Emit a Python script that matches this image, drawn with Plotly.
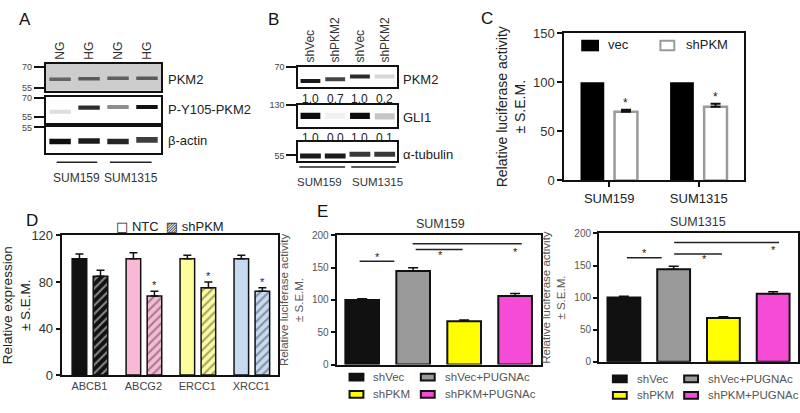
import plotly.graph_objects as go

W, H = 800, 413
FONT = "Liberation Sans, Arial, sans-serif"

# ------------------------------------------------------------------ data
# Panel A (western blots: band darkness 0..1 per lane)
a_lanes = ["NG", "HG", "NG", "HG"]
a_pkm2_dark = [0.62, 0.66, 0.64, 0.66]
a_py105_dark = [0.12, 0.85, 0.45, 0.97]
a_actin_dark = [0.97, 0.92, 0.88, 0.78]
a_cells = ["SUM159", "SUM1315"]

# Panel B
b_lanes = ["shVec", "shPKM2", "shVec", "shPKM2"]
b_pkm2_dark = [0.92, 0.75, 0.85, 0.15]
b_pkm2_quant = ["1.0", "0.7", "1.0", "0.2"]
b_gli1_dark = [0.98, 0.04, 0.98, 0.22]
b_gli1_quant = ["1.0", "0.0", "1.0", "0.1"]
b_tub_dark = [0.92, 0.92, 0.8, 0.8]
b_cells = ["SUM159", "SUM1315"]

# Panel C
c_cells = ["SUM159", "SUM1315"]
c_vec = [100, 100]
c_shpkm = [70, 75]
c_shpkm_err = [2, 3]

# Panel D
d_genes = ["ABCB1", "ABCG2", "ERCC1", "XRCC1"]
d_ntc = [100, 100, 100, 100]
d_ntc_err = [4, 5, 3, 3]
d_shpkm = [85, 68, 75, 72]
d_shpkm_err = [5, 4, 5, 3]
d_sig = ["", "*", "*", "*"]
d_colors = ["#111111", "#f9b8d6", "#fdfd9c", "#c6daf2"]

# Panel E
e_groups = ["shVec", "shVec+PUGNAc", "shPKM", "shPKM+PUGNAc"]
e_colors = ["#111111", "#9a9a9a", "#ffff00", "#f64bd6"]
e1_vals = [100, 145, 67, 106]
e1_err = [2, 5, 2, 4]
e2_vals = [100, 144, 68, 106]
e2_err = [2, 5, 2, 3]
# significance bars: (x start, x end, line height, star x, star y)
e1_sig = [(-0.05, 0.63, 160, 0.30, 167), (1.05, 1.97, 178, 1.54, 170), (0.99, 3.13, 187, 3.01, 175)]
e2_sig = [(0.06, 0.76, 162, 0.42, 170), (1.01, 1.97, 168, 1.61, 160), (1.01, 3.12, 186, 3.00, 174)]

# ------------------------------------------------------------------ helpers
fig = go.Figure()
layout = {}
shapes = []
annos = []
n_axes = [0]


def gray(d):
    v = int(round(255 * (1 - d) * 0.95 + 8))
    v = max(0, min(255, v))
    return f"rgb({v},{v},{v})"


def new_axes(x0, x1, y0, y1, xa=None, ya=None):
    n_axes[0] += 1
    n = n_axes[0]
    sfx = "" if n == 1 else str(n)
    xd = dict(domain=[x0 / W, x1 / W], anchor="y" + sfx)
    yd = dict(domain=[1 - y1 / H, 1 - y0 / H], anchor="x" + sfx)
    xd.update(xa or {})
    yd.update(ya or {})
    layout["xaxis" + sfx] = xd
    layout["yaxis" + sfx] = yd
    return "x" + sfx, "y" + sfx


def txt(x, y, s, size=12, color="#222", xanchor="center", yanchor="middle", xref="paper", yref="paper", angle=0, **kw):
    if xref == "paper":
        x = x / W
    if yref == "paper":
        y = 1 - y / H
    annos.append(dict(x=x, y=y, xref=xref, yref=yref, text=s, showarrow=False, xanchor=xanchor,
                      yanchor=yanchor, textangle=angle, font=dict(size=size, color=color, family=FONT), **kw))


def blot_axes(x0, x1, y0, y1, mw_vals, mw_text, top_labels=None, bg=None):
    xa = dict(range=[-0.5, 3.5], showgrid=False, zeroline=False, showline=True, mirror=True,
              linecolor="#111", linewidth=1.5, fixedrange=True)
    if top_labels:
        xa.update(side="top", tickmode="array", tickvals=list(range(len(top_labels))), ticktext=top_labels,
                  tickangle=-90, ticks="", tickfont=dict(size=12, color="#333", family=FONT))
    else:
        xa.update(showticklabels=False, ticks="")
    ya = dict(range=[0, 1], showgrid=False, zeroline=False, showline=True, mirror=True,
              linecolor="#111", linewidth=1.5, tickmode="array", tickvals=mw_vals, ticktext=mw_text,
              ticks="outside", ticklen=10, tickwidth=1.5, tickcolor="#111",
              tickfont=dict(size=9, color="#444", family=FONT), fixedrange=True)
    xr, yr = new_axes(x0, x1, y0, y1, xa, ya)
    if bg:
        shapes.append(dict(type="rect", xref=xr + " domain", yref=yr + " domain", x0=0, x1=1, y0=0, y1=1,
                           fillcolor=bg, line=dict(width=0), layer="below"))
    return xr, yr


def bands(xr, yr, dark, centers, thick, width):
    fig.add_trace(go.Bar(x=list(range(len(dark))), y=[thick] * len(dark),
                         base=[c - thick / 2 for c in centers], width=width,
                         marker=dict(color=[gray(d) for d in dark], line=dict(width=0)),
                         xaxis=xr, yaxis=yr, showlegend=False, hoverinfo="skip"))


# ------------------------------------------------------------------ panel A
txt(17, 13, "A", size=17, color="#111")
xa1, ya1 = blot_axes(38, 155, 59, 87, [0.1, 0.9], ["55", "70"], top_labels=a_lanes, bg="#cdcdcd")
bands(xa1, ya1, a_pkm2_dark, [0.43, 0.45, 0.47, 0.47], 0.13, 0.74)
xa2, ya2 = blot_axes(38, 155, 93, 120, [0.22, 0.96], ["55", "70"])
bands(xa2, ya2, a_py105_dark, [0.42, 0.58, 0.6, 0.6], 0.16, 0.74)
xa3, ya3 = blot_axes(38, 155, 125, 152, [1], ["55"])
bands(xa3, ya3, a_actin_dark, [0.46, 0.48, 0.46, 0.52], 0.22, 0.74)
for lab, yy in zip(["PKM2", "P-Y105-PKM2", "β-actin"], [75, 106, 139]):
    txt(160, yy, lab, size=13, color="#222", xanchor="left")
for i, cell in enumerate(a_cells):
    lo, hi = (-0.12, 1.28) if i == 0 else (1.72, 3.16)
    shapes.append(dict(type="line", xref=xa3, yref="paper", x0=lo, x1=hi, y0=1 - 161 / H, y1=1 - 161 / H,
                       line=dict(color="#222", width=1.5)))
    annos.append(dict(x=(lo + hi) / 2, y=1 - 177 / H, xref=xa3, yref="paper", text=cell, showarrow=False,
                      font=dict(size=12, color="#333", family=FONT)))

# ------------------------------------------------------------------ panel B
txt(268, 13, "B", size=17, color="#111")
xb1, yb1 = blot_axes(293, 393, 62, 83, [1], ["70"], top_labels=b_lanes)
bands(xb1, yb1, b_pkm2_dark, [0.3, 0.38, 0.52, 0.52], 0.2, 0.8)
xb2, yb2 = blot_axes(293, 393, 102, 125, [1], ["130"])
bands(xb2, yb2, b_gli1_dark, [0.52, 0.52, 0.52, 0.5], 0.28, 0.8)
xb3, yb3 = blot_axes(293, 393, 140, 160, [0.3], ["55"])
bands(xb3, yb3, b_tub_dark, [0.27, 0.27, 0.36, 0.36], 0.26, 0.84)
for lab, yy in zip(["PKM2", "GLI1", "α-tubulin"], [75, 115, 153]):
    txt(397, yy, lab, size=13, color="#222", xanchor="left")
for i, q in enumerate(b_pkm2_quant):
    annos.append(dict(x=i, y=0, xref=xb1, yref=yb1 + " domain", text=q, showarrow=False, yanchor="top",
                      yshift=-3, font=dict(size=12, color="#222", family=FONT)))
for i, q in enumerate(b_gli1_quant):
    annos.append(dict(x=i, y=0, xref=xb2, yref=yb2 + " domain", text=q, showarrow=False, yanchor="top",
                      yshift=-2, font=dict(size=12, color="#222", family=FONT)))
for i, cell in enumerate(b_cells):
    lo, hi = (-0.45, 1.4) if i == 0 else (1.65, 3.45)
    shapes.append(dict(type="line", xref=xb3, yref="paper", x0=lo, x1=hi, y0=1 - 166 / H, y1=1 - 166 / H,
                       line=dict(color="#222", width=1.5)))
    annos.append(dict(x=(lo + hi) / 2 + (-0.12 if i == 0 else 0.15), y=1 - 182 / H, xref=xb3, yref="paper",
                      text=cell, showarrow=False, font=dict(size=11.5, color="#333", family=FONT)))

# ------------------------------------------------------------------ panel C
txt(484, 12, "C", size=17, color="#111")
frame = dict(showline=True, mirror=True, linecolor="#111", linewidth=2, showgrid=False, zeroline=False,
             fixedrange=True)
xc, yc = new_axes(562, 743, 27, 180,
                  dict(frame, range=[-0.5, 1.5], tickmode="array", tickvals=[0, 1], ticktext=c_cells,
                       ticks="outside", ticklen=5, tickwidth=2, tickcolor="#111",
                       tickfont=dict(size=13, color="#222", family=FONT)),
                  dict(frame, range=[0, 150], tickmode="array", tickvals=[0, 50, 100, 150],
                       ticktext=["0", "50", "100", "150"], showticklabels=True,
                       ticks="outside", ticklen=5, tickwidth=2, tickcolor="#111",
                       tickfont=dict(size=13, color="#333", family=FONT),
                       title=dict(text="Relative luciferase activity<br>± S.E.M.", standoff=4,
                                  font=dict(size=14, color="#222", family=FONT))))
c_off_vec, c_w_vec = -0.32, 0.265
c_off_sh, c_w_sh = 0.06, 0.255
fig.add_trace(go.Bar(x=[0, 1], y=c_vec, offset=c_off_vec, width=c_w_vec, xaxis=xc, yaxis=yc,
                     marker=dict(color="#000", line=dict(width=0)), showlegend=False))
fig.add_trace(go.Bar(x=[0, 1], y=c_shpkm, offset=c_off_sh, width=c_w_sh, xaxis=xc, yaxis=yc,
                     marker=dict(color="white", line=dict(color="#9a9a9a", width=2.5)),
                     error_y=dict(type="data", array=c_shpkm_err, arrayminus=[0, 0], symmetric=False,
                                  color="#111", thickness=2, width=5), showlegend=False))
for i, (v, e) in enumerate(zip(c_shpkm, c_shpkm_err)):
    annos.append(dict(x=i + c_off_sh + c_w_sh / 2, y=v + e, xref=xc, yref=yc, text="*", showarrow=False,
                      yanchor="bottom", yshift=-2, font=dict(size=12, color="#222", family=FONT)))
# legend C
shapes.append(dict(type="rect", xref="paper", yref="paper", x0=579 / W, x1=597 / W, y0=1 - 46 / H, y1=1 - 34 / H,
                   fillcolor="#000", line=dict(width=0)))
txt(604, 39, "vec", size=13, color="#222", xanchor="left")
shapes.append(dict(type="rect", xref="paper", yref="paper", x0=659 / W, x1=673 / W, y0=1 - 45 / H, y1=1 - 35 / H,
                   fillcolor="white", line=dict(color="#9a9a9a", width=2)))
txt(683, 39, "shPKM", size=13, color="#222", xanchor="left")

# ------------------------------------------------------------------ panel D
txt(24, 222, "D", size=17, color="#111")
xd, yd = new_axes(55, 273, 237, 382,
                  dict(frame, linewidth=1.5, range=[-0.5, 3.5], tickmode="array", tickvals=[0, 1, 2, 3],
                       ticktext=d_genes, ticks="", tickfont=dict(size=11, color="#444", family=FONT)),
                  dict(frame, linewidth=1.5, range=[0, 120], tickmode="array", tickvals=[0, 40, 80, 120],
                       ticks="outside", ticklen=5, tickwidth=1.5, tickcolor="#111",
                       tickfont=dict(size=13, color="#333", family=FONT),
                       title=dict(text="Relative expression<br>± S.E.M.", standoff=4,
                                  font=dict(size=13.5, color="#222", family=FONT))))
d_off_ntc, d_w = -0.32, 0.27
d_off_sh = 0.07
err_style = dict(color="#111", thickness=1.5, width=4)
fig.add_trace(go.Bar(x=[0, 1, 2, 3], y=d_ntc, offset=d_off_ntc, width=d_w, xaxis=xd, yaxis=yd,
                     marker=dict(color=d_colors, line=dict(color="#111", width=1.5)),
                     error_y=dict(type="data", array=d_ntc_err, arrayminus=[0] * 4, symmetric=False, **err_style),
                     showlegend=False))
fig.add_trace(go.Bar(x=[0, 1, 2, 3], y=d_shpkm, offset=d_off_sh, width=d_w, xaxis=xd, yaxis=yd,
                     marker=dict(color=d_colors, line=dict(color="#111", width=1.5),
                                 pattern=dict(shape="/", fillmode="overlay", size=6, solidity=0.35,
                                              fgcolor=["#ffffff", "#111", "#111", "#111"])),
                     error_y=dict(type="data", array=d_shpkm_err, arrayminus=[0] * 4, symmetric=False, **err_style),
                     showlegend=False))
for i, (v, e, s) in enumerate(zip(d_shpkm, d_shpkm_err, d_sig)):
    if s:
        annos.append(dict(x=i + d_off_sh + d_w / 2, y=v + e, xref=xd, yref=yd, text=s, showarrow=False,
                          yanchor="bottom", yshift=-2, font=dict(size=11, color="#222", family=FONT)))
txt(164, 228, "<span style='font-family:DejaVu Sans'>□</span> NTC  <span style='font-family:DejaVu Sans'>▨</span> shPKM",
    size=13, color="#222")

# ------------------------------------------------------------------ panel E
txt(318, 212, "E", size=17, color="#111")
e_tick = dict(ticks="outside", ticklen=4, tickwidth=2, tickcolor="#111",
              tickfont=dict(size=10, color="#555", family=FONT))


def e_panel(x0, x1, y0, y1, title, tx, vals, errs, sig, leg_x, leg_y):
    xr, yr = new_axes(x0, x1, y0, y1,
                      dict(frame, range=[-0.5, 3.5], showticklabels=False, ticks=""),
                      dict(frame, range=[0, 200], tickmode="array", tickvals=[0, 50, 100, 150, 200],
                           title=dict(text="Relative luciferase activity<br>± S.E.M.", standoff=6,
                                      font=dict(size=11.5, color="#555", family=FONT)), **e_tick))
    fig.add_trace(go.Bar(x=[0, 1, 2, 3], y=vals, width=0.66, xaxis=xr, yaxis=yr,
                         marker=dict(color=e_colors, line=dict(color="#111", width=2)),
                         error_y=dict(type="data", array=errs, arrayminus=[0] * 4, symmetric=False,
                                      color="#111", thickness=1.5, width=5), showlegend=False))
    txt(tx, y0 - 12, title, size=12.5, color="#333")
    for (sx0, sx1, sy, ax, ay) in sig:
        shapes.append(dict(type="line", xref=xr, yref=yr, x0=sx0, x1=sx1, y0=sy, y1=sy,
                           line=dict(color="#222", width=1.5)))
        annos.append(dict(x=ax, y=ay, xref=xr, yref=yr, text="*", showarrow=False, yanchor="middle",
                          font=dict(size=11, color="#222", family=FONT)))
    # legend
    cols = [leg_x, leg_x + 72]
    for k, g in enumerate(e_groups):
        cx = cols[k % 2]
        cy = leg_y[k // 2]
        shapes.append(dict(type="rect", xref="paper", yref="paper", x0=cx / W, x1=(cx + 14) / W,
                           y0=1 - (cy + 3.5) / H, y1=1 - (cy - 3.5) / H, fillcolor=e_colors[k],
                           line=dict(color="#111", width=2)))
        txt(cx + 22, cy, g, size=11.5, color="#555", xanchor="left")


e_panel(332, 538, 237, 371, "SUM159", 437, e1_vals, e1_err, e1_sig, 345, [384, 402])
e_panel(597, 798, 235, 368, "SUM1315", 697, e2_vals, e2_err, e2_sig, 611, [386, 403])

layout.update(width=W, height=H, margin=dict(l=0, r=0, t=0, b=0), paper_bgcolor="white",
              plot_bgcolor="rgba(0,0,0,0)", barmode="overlay", showlegend=False,
              shapes=shapes, annotations=annos, font=dict(family=FONT))
fig.update_layout(**layout)
fig.write_html("out.html", config={"displayModeBar": False},
               post_script="document.body.style.margin='0px';document.body.style.overflow='hidden';")
